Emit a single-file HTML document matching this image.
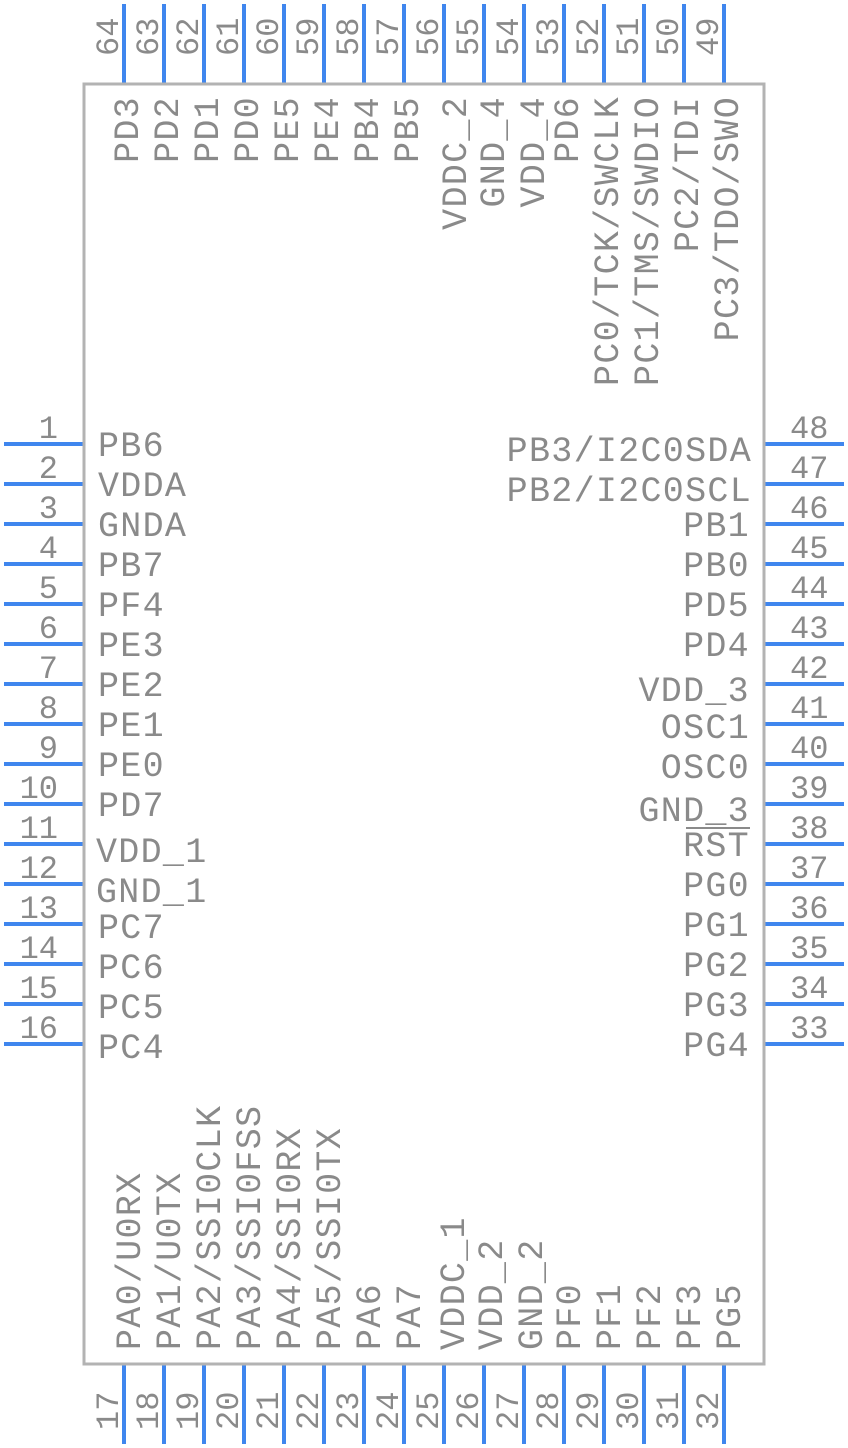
<!DOCTYPE html>
<html><head><meta charset="utf-8"><style>
html,body{margin:0;padding:0;background:#fff;}
svg{display:block}
text{font-family:"Liberation Mono","DejaVu Sans Mono",monospace;fill:#8a8a8a;}
.l{font-size:35px;letter-spacing:1.3px}
.n{font-size:32px}
</style></head><body>
<svg width="848" height="1448" viewBox="0 0 848 1448" xmlns="http://www.w3.org/2000/svg">
<g stroke="#3f86ee" stroke-width="4">
<line x1="4" y1="444" x2="84" y2="444"/><line x1="4" y1="484" x2="84" y2="484"/><line x1="4" y1="524" x2="84" y2="524"/><line x1="4" y1="564" x2="84" y2="564"/>
<line x1="4" y1="604" x2="84" y2="604"/><line x1="4" y1="644" x2="84" y2="644"/><line x1="4" y1="684" x2="84" y2="684"/><line x1="4" y1="724" x2="84" y2="724"/>
<line x1="4" y1="764" x2="84" y2="764"/><line x1="4" y1="804" x2="84" y2="804"/><line x1="4" y1="844" x2="84" y2="844"/><line x1="4" y1="884" x2="84" y2="884"/>
<line x1="4" y1="924" x2="84" y2="924"/><line x1="4" y1="964" x2="84" y2="964"/><line x1="4" y1="1004" x2="84" y2="1004"/><line x1="4" y1="1044" x2="84" y2="1044"/>
<line x1="764" y1="444" x2="844" y2="444"/><line x1="764" y1="484" x2="844" y2="484"/><line x1="764" y1="524" x2="844" y2="524"/><line x1="764" y1="564" x2="844" y2="564"/>
<line x1="764" y1="604" x2="844" y2="604"/><line x1="764" y1="644" x2="844" y2="644"/><line x1="764" y1="684" x2="844" y2="684"/><line x1="764" y1="724" x2="844" y2="724"/>
<line x1="764" y1="764" x2="844" y2="764"/><line x1="764" y1="804" x2="844" y2="804"/><line x1="764" y1="844" x2="844" y2="844"/><line x1="764" y1="884" x2="844" y2="884"/>
<line x1="764" y1="924" x2="844" y2="924"/><line x1="764" y1="964" x2="844" y2="964"/><line x1="764" y1="1004" x2="844" y2="1004"/><line x1="764" y1="1044" x2="844" y2="1044"/>
<line x1="124" y1="4" x2="124" y2="84"/><line x1="164" y1="4" x2="164" y2="84"/><line x1="204" y1="4" x2="204" y2="84"/><line x1="244" y1="4" x2="244" y2="84"/>
<line x1="284" y1="4" x2="284" y2="84"/><line x1="324" y1="4" x2="324" y2="84"/><line x1="364" y1="4" x2="364" y2="84"/><line x1="404" y1="4" x2="404" y2="84"/>
<line x1="444" y1="4" x2="444" y2="84"/><line x1="484" y1="4" x2="484" y2="84"/><line x1="524" y1="4" x2="524" y2="84"/><line x1="564" y1="4" x2="564" y2="84"/>
<line x1="604" y1="4" x2="604" y2="84"/><line x1="644" y1="4" x2="644" y2="84"/><line x1="684" y1="4" x2="684" y2="84"/><line x1="724" y1="4" x2="724" y2="84"/>
<line x1="124" y1="1364" x2="124" y2="1444"/><line x1="164" y1="1364" x2="164" y2="1444"/><line x1="204" y1="1364" x2="204" y2="1444"/><line x1="244" y1="1364" x2="244" y2="1444"/>
<line x1="284" y1="1364" x2="284" y2="1444"/><line x1="324" y1="1364" x2="324" y2="1444"/><line x1="364" y1="1364" x2="364" y2="1444"/><line x1="404" y1="1364" x2="404" y2="1444"/>
<line x1="444" y1="1364" x2="444" y2="1444"/><line x1="484" y1="1364" x2="484" y2="1444"/><line x1="524" y1="1364" x2="524" y2="1444"/><line x1="564" y1="1364" x2="564" y2="1444"/>
<line x1="604" y1="1364" x2="604" y2="1444"/><line x1="644" y1="1364" x2="644" y2="1444"/><line x1="684" y1="1364" x2="684" y2="1444"/><line x1="724" y1="1364" x2="724" y2="1444"/>
</g>
<rect x="84" y="84" width="680" height="1280" fill="none" stroke="#b3b3b3" stroke-width="3"/>

<g class="n" text-anchor="end">
<text x="58" y="438">1</text><text x="58" y="478">2</text><text x="58" y="518">3</text><text x="58" y="558">4</text>
<text x="58" y="598">5</text><text x="58" y="638">6</text><text x="58" y="678">7</text><text x="58" y="718">8</text>
<text x="58" y="758">9</text><text x="58" y="798">10</text><text x="58" y="838">11</text><text x="58" y="878">12</text>
<text x="58" y="918">13</text><text x="58" y="958">14</text><text x="58" y="998">15</text><text x="58" y="1038">16</text>
</g>
<g class="l">
<text x="98" y="456">PB6</text><text x="98" y="496">VDDA</text><text x="98" y="536">GNDA</text><text x="98" y="576">PB7</text>
<text x="98" y="616">PF4</text><text x="98" y="656">PE3</text><text x="98" y="696">PE2</text><text x="98" y="736">PE1</text>
<text x="98" y="776">PE0</text><text x="98" y="816">PD7</text><text x="96" y="862">VDD_1</text><text x="96" y="902">GND_1</text>
<text x="98" y="938">PC7</text><text x="98" y="978">PC6</text><text x="98" y="1018">PC5</text><text x="98" y="1058">PC4</text>
</g>
<g class="n">
<text x="790" y="438">48</text><text x="790" y="478">47</text><text x="790" y="518">46</text><text x="790" y="558">45</text>
<text x="790" y="598">44</text><text x="790" y="638">43</text><text x="790" y="678">42</text><text x="790" y="718">41</text>
<text x="790" y="758">40</text><text x="790" y="798">39</text><text x="790" y="838">38</text><text x="790" y="878">37</text>
<text x="790" y="918">36</text><text x="790" y="958">35</text><text x="790" y="998">34</text><text x="790" y="1038">33</text>
</g>
<g class="l" text-anchor="end">
<text x="752" y="461">PB3/I2C0SDA</text><text x="752" y="501">PB2/I2C0SCL</text><text x="750" y="536">PB1</text><text x="750" y="576">PB0</text>
<text x="750" y="616">PD5</text><text x="750" y="656">PD4</text><text x="750" y="701">VDD_3</text><text x="750" y="738">OSC1</text>
<text x="750" y="778">OSC0</text><text x="750" y="821">GND_3</text><text x="750" y="856">RST</text><text x="750" y="896">PG0</text>
<text x="750" y="936">PG1</text><text x="750" y="976">PG2</text><text x="750" y="1016">PG3</text><text x="750" y="1056">PG4</text>
</g>
<line x1="686" y1="828" x2="750" y2="828" stroke="#8a8a8a" stroke-width="2"/>

<g class="n">
<text transform="translate(118,56) rotate(-90)">64</text><text transform="translate(158,56) rotate(-90)">63</text>
<text transform="translate(198,56) rotate(-90)">62</text><text transform="translate(238,56) rotate(-90)">61</text>
<text transform="translate(278,56) rotate(-90)">60</text><text transform="translate(318,56) rotate(-90)">59</text>
<text transform="translate(358,56) rotate(-90)">58</text><text transform="translate(398,56) rotate(-90)">57</text>
<text transform="translate(438,56) rotate(-90)">56</text><text transform="translate(478,56) rotate(-90)">55</text>
<text transform="translate(518,56) rotate(-90)">54</text><text transform="translate(558,56) rotate(-90)">53</text>
<text transform="translate(598,56) rotate(-90)">52</text><text transform="translate(638,56) rotate(-90)">51</text>
<text transform="translate(678,56) rotate(-90)">50</text><text transform="translate(718,56) rotate(-90)">49</text>
</g>
<g class="l" text-anchor="end">
<text transform="translate(138,96) rotate(-90)">PD3</text><text transform="translate(178,96) rotate(-90)">PD2</text>
<text transform="translate(218,96) rotate(-90)">PD1</text><text transform="translate(258,96) rotate(-90)">PD0</text>
<text transform="translate(298,96) rotate(-90)">PE5</text><text transform="translate(338,96) rotate(-90)">PE4</text>
<text transform="translate(378,96) rotate(-90)">PB4</text><text transform="translate(418,96) rotate(-90)">PB5</text>
<text transform="translate(466,96) rotate(-90)">VDDC_2</text><text transform="translate(504,96) rotate(-90)">GND_4</text>
<text transform="translate(544,96) rotate(-90)">VDD_4</text><text transform="translate(578,96) rotate(-90)">PD6</text>
<text transform="translate(618,96) rotate(-90)">PC0/TCK/SWCLK</text><text transform="translate(658,96) rotate(-90)">PC1/TMS/SWDIO</text>
<text transform="translate(698,96) rotate(-90)">PC2/TDI</text><text transform="translate(738,96) rotate(-90)">PC3/TDO/SWO</text>
</g>

<g class="n">
<text transform="translate(118,1430) rotate(-90)">17</text><text transform="translate(158,1430) rotate(-90)">18</text>
<text transform="translate(198,1430) rotate(-90)">19</text><text transform="translate(238,1430) rotate(-90)">20</text>
<text transform="translate(278,1430) rotate(-90)">21</text><text transform="translate(318,1430) rotate(-90)">22</text>
<text transform="translate(358,1430) rotate(-90)">23</text><text transform="translate(398,1430) rotate(-90)">24</text>
<text transform="translate(438,1430) rotate(-90)">25</text><text transform="translate(478,1430) rotate(-90)">26</text>
<text transform="translate(518,1430) rotate(-90)">27</text><text transform="translate(558,1430) rotate(-90)">28</text>
<text transform="translate(598,1430) rotate(-90)">29</text><text transform="translate(638,1430) rotate(-90)">30</text>
<text transform="translate(678,1430) rotate(-90)">31</text><text transform="translate(718,1430) rotate(-90)">32</text>
</g>
<g class="l">
<text transform="translate(140,1350) rotate(-90)">PA0/U0RX</text><text transform="translate(180,1350) rotate(-90)">PA1/U0TX</text>
<text transform="translate(220,1350) rotate(-90)">PA2/SSI0CLK</text><text transform="translate(260,1350) rotate(-90)">PA3/SSI0FSS</text>
<text transform="translate(300,1350) rotate(-90)">PA4/SSI0RX</text><text transform="translate(340,1350) rotate(-90)">PA5/SSI0TX</text>
<text transform="translate(380,1350) rotate(-90)">PA6</text><text transform="translate(420,1350) rotate(-90)">PA7</text>
<text transform="translate(464,1350) rotate(-90)">VDDC_1</text><text transform="translate(502,1350) rotate(-90)">VDD_2</text>
<text transform="translate(542,1350) rotate(-90)">GND_2</text><text transform="translate(580,1350) rotate(-90)">PF0</text>
<text transform="translate(620,1350) rotate(-90)">PF1</text><text transform="translate(660,1350) rotate(-90)">PF2</text>
<text transform="translate(700,1350) rotate(-90)">PF3</text><text transform="translate(740,1350) rotate(-90)">PG5</text>
</g>
</svg>
</body></html>
